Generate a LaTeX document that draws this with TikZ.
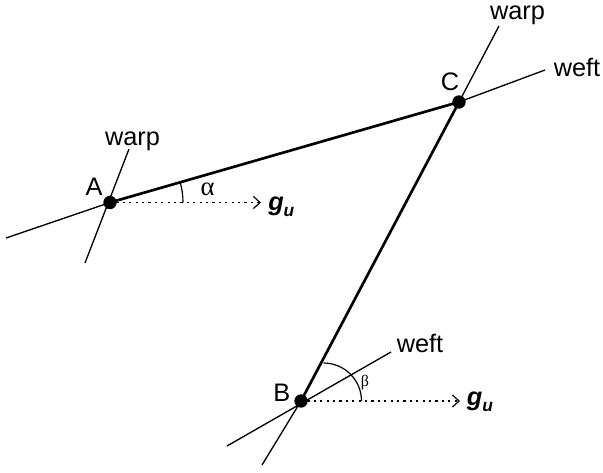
\documentclass[tikz,border=0pt]{standalone}
\usepackage{fontspec}
\setmainfont{Liberation Sans}
\newfontfamily\grk{Liberation Serif}
\usetikzlibrary{arrows.meta}
\begin{document}
\begin{tikzpicture}[x=0.75pt,y=-0.75pt,
  lbl/.style={font=\fontsize{19}{22}\selectfont, inner sep=0, anchor=base},
  glbl/.style={font=\fontsize{19}{22}\selectfont\bfseries\itshape, inner sep=0, anchor=base west},
  thinline/.style={line width=1pt},
  thickline/.style={line width=2pt},
  dirline/.style={line width=0.9pt, dash pattern=on 1.6pt off 3.2pt,
    -{Straight Barb[length=5pt,width=9pt,line width=0.9pt]}},
  angarc/.style={line width=0.9pt},
  ptdot/.style={circle, fill=black, inner sep=0, minimum size=10pt}]
\useasboundingbox (0,0) rectangle (603,472);
% points
\coordinate (A) at (110,202.5);
\coordinate (B) at (301,401);
\coordinate (C) at (459,102);
% free ends
\coordinate (Awarp1) at (85,263);
\coordinate (Awarp2) at (129,149);
\coordinate (Aweft) at (6,238);
\coordinate (Cwarp) at (499,26);
\coordinate (Cweft) at (545,70);
\coordinate (Bweft1) at (227,446);
\coordinate (Bweft2) at (391,352);
\coordinate (Bwarp) at (262,465);
\coordinate (Agu) at (261,202.5);
\coordinate (Bgu) at (460,401);
% yarn lines
\draw[thinline] (Awarp1) -- (Awarp2);
\draw[thinline] (Aweft) -- (A);
\draw[thinline] (C) -- (Cwarp);
\draw[thinline] (C) -- (Cweft);
\draw[thinline] (Bweft1) -- (Bweft2);
\draw[thinline] (Bwarp) -- (B);
% thick sides
\draw[thickline] (A) -- (C);
\draw[thickline] (B) -- (C);
% direction arrows
\draw[dirline] (A) -- (Agu);
\draw[dirline] (B) -- (Bgu);
% angle arcs
\draw[angarc] ([shift={(73,0)}]A) arc[start angle=0,end angle=16,radius=54.75pt];
\draw[angarc] ([shift={(60.5,0)}]B) arc[start angle=0,end angle=90,radius=28.5pt];
% dots
\node[ptdot] (dA) at (A) {};
\node[ptdot] (dB) at (B) {};
\node[ptdot] (dC) at (C) {};
% labels
\node[lbl] (tA) at (94,195) {A};
\node[lbl] (tB) at (281.7,401.7) {B};
\node[lbl] (tC) at (450,90.7) {C};
\node[lbl] (warpA) at (132.5,145) {warp};
\node[lbl] (warpC) at (517.5,19) {warp};
\node[lbl] (weftC) at (577,76.7) {weft};
\node[lbl] (weftB) at (420,352) {weft};
\node[inner sep=0, anchor=base, font=\grk\fontsize{20}{22}\selectfont] (alpha) at (207.5,195) {α};
\node[inner sep=0, anchor=base, font=\grk\fontsize{12}{14}\selectfont] (beta) at (365,386) {β};
\node[glbl] (guA) at (268,210) {g\raisebox{-5pt}{\fontsize{13}{15}\selectfont u}};
\node[glbl] (guB) at (466.7,405) {g\raisebox{-5pt}{\fontsize{13}{15}\selectfont u}};
\end{tikzpicture}
\end{document}
